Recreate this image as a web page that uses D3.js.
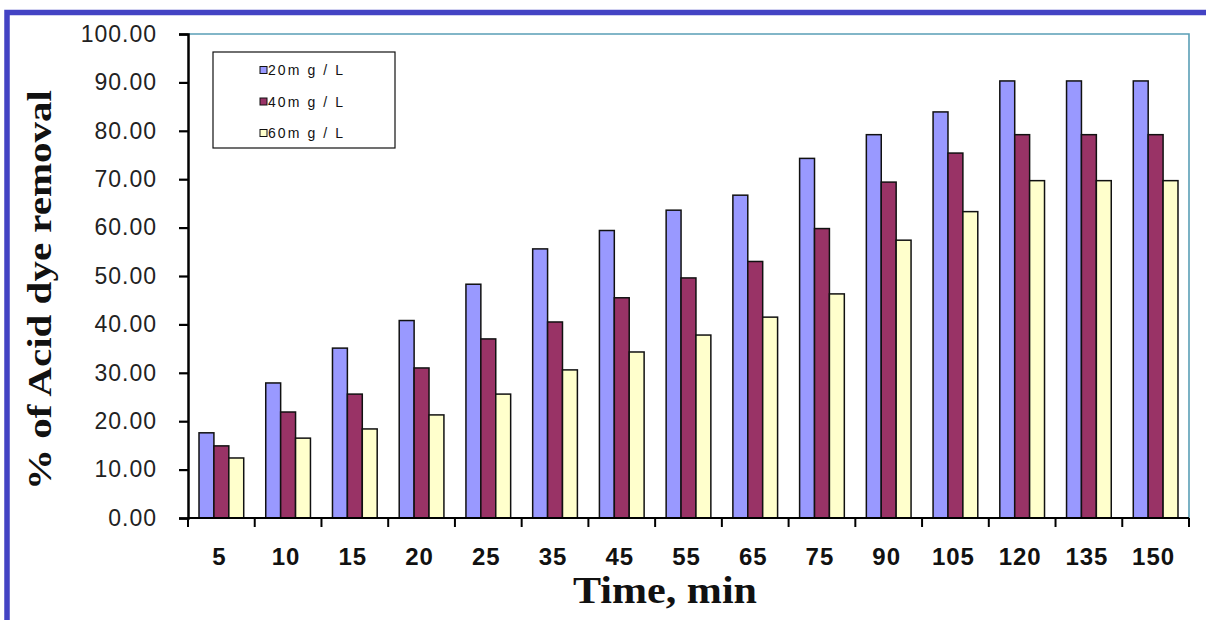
<!DOCTYPE html>
<html>
    <head>
        <script src="https://cdn.jsdelivr.net/npm/d3@7"></script>
        <style>
            body { margin: 0; background: #fff; }
        </style>
    </head>
    <body>
        <div class="chart"></div>
    </body>
    <script>
        const times = ["5", "10", "15", "20", "25", "35", "45", "55", "65", "75", "90", "105", "120", "135", "150"];
        const conc20 = [17.6, 27.9, 35.1, 40.8, 48.3, 55.6, 59.4, 63.6, 66.7, 74.3, 79.2, 83.9, 90.3, 90.3, 90.3];
        const conc40 = [14.9, 21.9, 25.6, 31.0, 37.0, 40.5, 45.5, 49.6, 53.0, 59.8, 69.4, 75.4, 79.2, 79.2, 79.2];
        const conc60 = [12.4, 16.5, 18.4, 21.3, 25.6, 30.6, 34.3, 37.8, 41.5, 46.3, 57.4, 63.3, 69.7, 69.7, 69.7];
        const seriesNames = ["20m g / L", "40m g / L", "60m g / L"];
        const yTicks = [0, 10, 20, 30, 40, 50, 60, 70, 80, 90, 100];

        const width = 1206;
        const height = 620;
        const margin = ({top: 34, right: 17, bottom: 102, left: 188});
        const colors = ["#9999ff", "#993366", "#ffffcc"];

        const series = [conc20, conc40, conc60];
        const rows = times.map((t, i) => ({time: t, values: series.map(s => s[i])}));

        const svg = d3.select(".chart").append("svg")
            .attr("width", width).attr("height", height)
            .style("display", "block");

        // outer blue frame (top + left only)
        svg.append("path")
            .attr("d", `M7,${height} V12.5 H${width}`)
            .attr("fill", "none").attr("stroke", "#4343c4").attr("stroke-width", 5.5);

        const x0 = d3.scaleBand()
            .domain(times)
            .range([margin.left, width - margin.right])
            .paddingInner(0.33)
            .paddingOuter(0.165);
        const x1 = d3.scaleBand()
            .domain(d3.range(series.length))
            .range([0, x0.bandwidth()]);
        const y = d3.scaleLinear()
            .domain([0, 100])
            .range([height - margin.bottom, margin.top]);

        // plot area border (top + right)
        svg.append("path")
            .attr("d", `M${margin.left},${margin.top} H${width - margin.right} V${y(0)}`)
            .attr("fill", "none").attr("stroke", "#5a9fb6").attr("stroke-width", 1.6);

        // bars
        svg.append("g")
            .selectAll("g")
            .data(rows)
            .join("g")
            .attr("transform", d => `translate(${x0(d.time)},0)`)
            .selectAll("rect")
            .data(d => d.values.map((v, k) => ({k, v})))
            .join("rect")
            .attr("x", d => x1(d.k))
            .attr("width", x1.bandwidth())
            .attr("y", d => y(d.v))
            .attr("height", d => y(0) - y(d.v))
            .attr("fill", d => colors[d.k])
            .attr("stroke", "#111")
            .attr("stroke-width", 1.5);

        // y axis
        const yAxis = svg.append("g")
            .attr("transform", `translate(${margin.left},0)`)
            .call(d3.axisLeft(y).tickValues(yTicks).tickFormat(d3.format(".2f")).tickSize(9).tickPadding(22));
        yAxis.select(".domain").attr("stroke", "#000").attr("stroke-width", 2.5);
        yAxis.selectAll(".tick line").attr("stroke", "#000").attr("stroke-width", 2.2);
        yAxis.selectAll("text")
            .attr("fill", "#222")
            .style("font-family", "'Liberation Sans', Arial, sans-serif")
            .style("font-size", "23px")
            .style("letter-spacing", "1px");

        // x axis line + boundary ticks
        const step = x0.step();
        const x0start = x0.range()[0];
        const xAxis = svg.append("g");
        xAxis.append("line")
            .attr("x1", margin.left).attr("x2", width - margin.right)
            .attr("y1", y(0)).attr("y2", y(0))
            .attr("stroke", "#000").attr("stroke-width", 2);
        xAxis.selectAll(".bt")
            .data(d3.range(times.length + 1))
            .join("line")
            .attr("class", "bt")
            .attr("x1", i => x0start + i * step).attr("x2", i => x0start + i * step)
            .attr("y1", y(0)).attr("y2", y(0) + 9)
            .attr("stroke", "#000").attr("stroke-width", 2);
        xAxis.selectAll(".lbl")
            .data(times)
            .join("text")
            .attr("class", "lbl")
            .attr("x", d => x0(d) + x0.bandwidth() / 2 - 2)
            .attr("y", 565)
            .attr("text-anchor", "middle")
            .attr("fill", "#111")
            .style("font-family", "'Liberation Sans', Arial, sans-serif")
            .style("font-weight", "bold")
            .style("font-size", "24px")
            .style("letter-spacing", "1px")
            .text(d => d);

        // axis titles
        svg.append("text")
            .attr("transform", "translate(51,290) rotate(-90)")
            .attr("text-anchor", "middle")
            .attr("textLength", 400)
            .attr("lengthAdjust", "spacingAndGlyphs")
            .attr("fill", "#111")
            .style("font-family", "'Liberation Serif', 'Times New Roman', serif")
            .style("font-weight", "bold")
            .style("font-size", "34px")
            .text("% of Acid dye removal");
        svg.append("text")
            .attr("x", 665).attr("y", 603)
            .attr("text-anchor", "middle")
            .attr("textLength", 184)
            .attr("lengthAdjust", "spacingAndGlyphs")
            .attr("fill", "#111")
            .style("font-family", "'Liberation Serif', 'Times New Roman', serif")
            .style("font-weight", "bold")
            .style("font-size", "37px")
            .text("Time, min");

        // legend
        const legend = svg.append("g").attr("transform", "translate(213,52)");
        legend.append("rect")
            .attr("width", 182).attr("height", 96)
            .attr("fill", "#fff").attr("stroke", "#111").attr("stroke-width", 1.2);
        const item = legend.selectAll(".item")
            .data(seriesNames)
            .join("g")
            .attr("class", "item")
            .attr("transform", (d, i) => `translate(47,${18 + i * 31.5})`);
        item.append("rect")
            .attr("x", 0).attr("y", -3.5)
            .attr("width", 7).attr("height", 7)
            .attr("fill", (d, i) => colors[i])
            .attr("stroke", "#111").attr("stroke-width", 1);
        item.append("text")
            .attr("x", 8).attr("y", 5)
            .attr("fill", "#111")
            .style("font-family", "'Liberation Sans', Arial, sans-serif")
            .style("font-size", "14px")
            .attr("textLength", 75)
            .attr("lengthAdjust", "spacing")
            .text(d => d);
    </script>
</html>
